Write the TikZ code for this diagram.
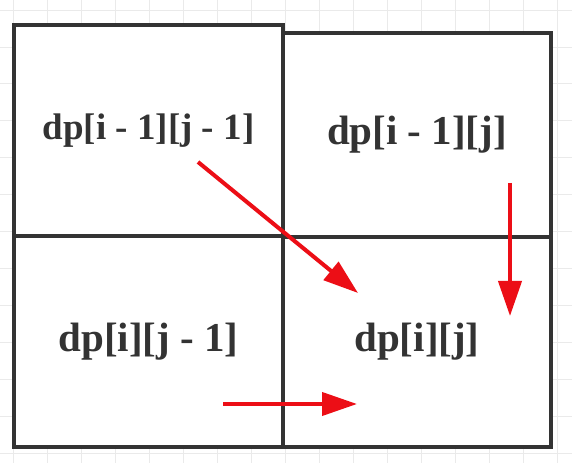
\documentclass[tikz,border=0pt]{standalone}
\usepackage{fontspec}
\setmainfont{Liberation Serif}
\usetikzlibrary{arrows.meta}

\definecolor{gridgray}{RGB}{234,234,234}
\definecolor{boxgray}{RGB}{51,51,51}
\definecolor{arrowred}{RGB}{236,14,22}

\tikzset{
  cell/.style={draw=boxgray, fill=white, line width=3.2pt, inner sep=0pt, text=boxgray,
    font=\fontsize{41}{49}\selectfont\bfseries},
  dparrow/.style={arrowred, line width=4pt, -{Triangle[length=35pt,width=23pt]}}
}

\begin{document}
\begin{tikzpicture}[x=1pt,y=1pt]
\useasboundingbox (0,0) rectangle (572,463);
\fill[white] (0,0) rectangle (572,463);
\begin{scope}[shift={(13,10)}]
\draw[gridgray, line width=1pt, xstep=34, ystep=36.9] (-13,-10) grid (559,453);
\end{scope}
\node[cell, minimum width=269, minimum height=211,
  font=\fontsize{37}{44}\selectfont\bfseries] (prevdiag) at (148.5,332.5) {dp[i - 1][j - 1]};
\node[cell, minimum width=268, minimum height=204] (prevrow) at (417,328) {dp[i - 1][j]};
\node[cell, minimum width=269, minimum height=211] (prevcol) at (148.5,121.5) {dp[i][j - 1]};
\node[cell, minimum width=268, minimum height=210] (cur) at (417,121) {dp[i][j]};
\coordinate (diagstart) at (198,301);
\coordinate (diagend) at (358,170);
\coordinate (upstart) at (510,280);
\coordinate (upend) at (510,147);
\coordinate (leftstart) at (223,59);
\coordinate (leftend) at (357,59);
\draw[dparrow] (diagstart) -- (diagend);
\draw[dparrow] (upstart) -- (upend);
\draw[dparrow] (leftstart) -- (leftend);
\end{tikzpicture}
\end{document}
